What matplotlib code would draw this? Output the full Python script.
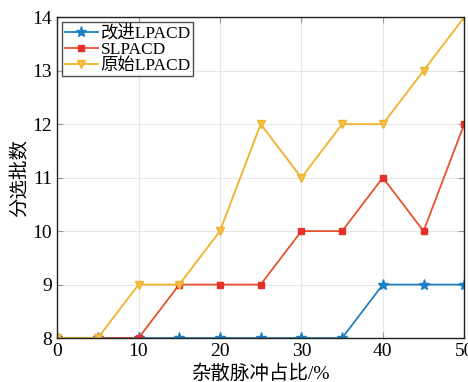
import matplotlib
matplotlib.use("Agg")
import matplotlib.pyplot as plt

plt.rcParams['font.family'] = ['Liberation Serif', 'Noto Sans CJK SC']
plt.rcParams['mathtext.fontset'] = 'stix'

x = [0, 5, 10, 15, 20, 25, 30, 35, 40, 45, 50]
improved = [8, 8, 8, 8, 8, 8, 8, 8, 9, 9, 9]
slpacd = [8, 8, 8, 9, 9, 9, 10, 10, 11, 10, 12]
original = [8, 8, 9, 9, 10, 12, 11, 12, 12, 13, 14]

fig = plt.figure(figsize=(4.68, 3.82), dpi=100)
ax = fig.add_axes([0.122, 0.115, 0.87, 0.84])

ax.plot(x, improved, color='#1f7fc4', marker='*', markersize=8, lw=1.3, label='改进LPACD')
ax.plot(x, slpacd, color='#e5532e', marker='s', markersize=4.5, mfc='#e8302a', mec='#e8302a', lw=1.3, label='SLPACD')
ax.plot(x, original, color='#f0b22c', marker='v', markersize=5.5, mfc='#f5c04a', lw=1.3, label='原始LPACD')

ax.set_xlim(0, 50)
ax.set_ylim(8, 14)
ax.set_xticks(range(0, 51, 10))
ax.set_yticks(range(8, 15))
ax.grid(True, color='#e6e6e6', lw=0.8)
ax.tick_params(direction='in', top=True, right=True, labelsize=14, length=4, color='#999999')
for s in ax.spines.values():
    s.set_color('#222222')
    s.set_linewidth(1.0)

ax.set_xlabel('杂散脉冲占比/%', fontsize=14, labelpad=3)
ax.set_ylabel('分选批数', fontsize=14, labelpad=2)

leg = ax.legend(loc='upper left', fontsize=12.5, frameon=True, fancybox=False,
                edgecolor='#222222', borderpad=0.15, labelspacing=0.0,
                handlelength=1.9, handletextpad=0.15, borderaxespad=0.3)
leg.get_frame().set_linewidth(1.0)

fig.savefig('out.png', dpi=100)
